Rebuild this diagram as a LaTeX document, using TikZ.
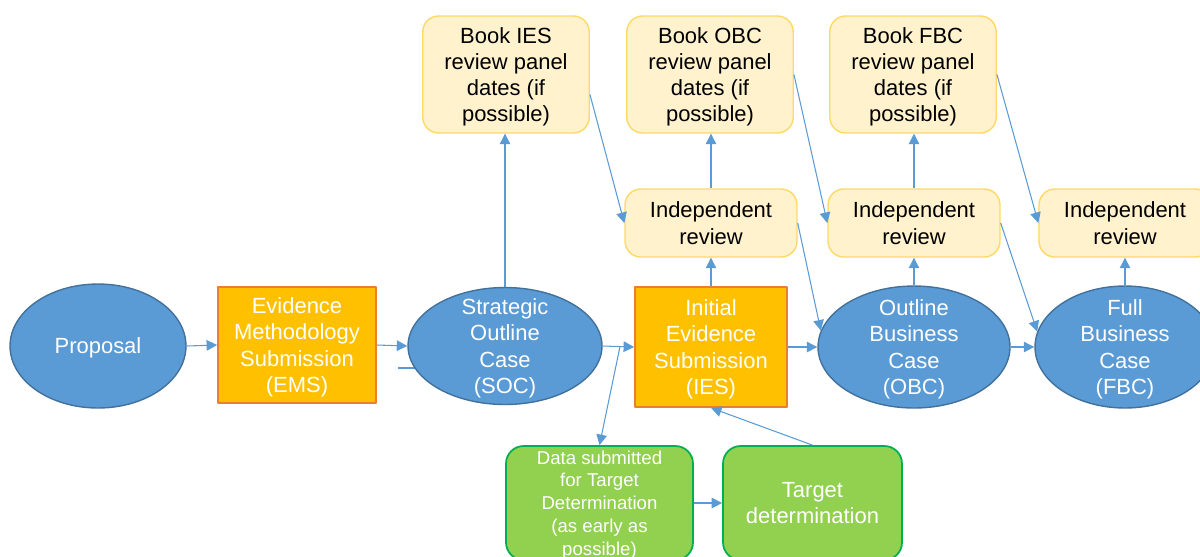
\documentclass[tikz,border=0pt]{standalone}
\usepackage{fontspec}
\setmainfont{Liberation Sans}
\usetikzlibrary{arrows.meta,calc,shapes.geometric,backgrounds}

\definecolor{ovalblue}{HTML}{5B9BD5}
\definecolor{ovalline}{HTML}{41719C}
\definecolor{subfill}{HTML}{FFC000}
\definecolor{subline}{HTML}{ED7D31}
\definecolor{notefill}{HTML}{FFF2CC}
\definecolor{noteline}{HTML}{FFD966}
\definecolor{datafill}{HTML}{92D050}
\definecolor{dataline}{HTML}{00B050}

\begin{document}
\begin{tikzpicture}[x=0.02cm, y=-0.02cm, font=\fontsize{12.5}{14.9}\selectfont, line join=round,
    every node/.append style={text depth=0pt},
    oval/.style={ellipse, draw=ovalline, fill=ovalblue, line width=0.8pt, inner sep=0pt},
    ovaltext/.style={text=white, align=center, inner sep=0pt},
    submit/.style={rectangle, draw=subline, fill=subfill, line width=1pt, text=white, align=center, inner sep=0pt},
    note/.style={rectangle, rounded corners=9pt, draw=noteline, fill=notefill, line width=0.8pt, align=center, inner sep=0pt, minimum width=3.33cm},
    data/.style={rectangle, rounded corners=10pt, draw=dataline, fill=datafill, line width=1pt, text=white, align=center, inner sep=0pt, minimum height=2.28cm},
    link/.style={draw=ovalblue, line width=0.6pt, -{Triangle[length=6pt,width=6pt]}}]
    \useasboundingbox (0,0) rectangle (1200,556);
    \clip (0,0) rectangle (1200,556);

    % main stages
    \node[oval, minimum width=3.52cm, minimum height=2.48cm, label={[ovaltext]center:Proposal}] (proposal) at (98,346) {};
    \node[submit, minimum width=3.16cm, minimum height=2.32cm] (ems) at (297,345) {Evidence\\Methodology\\Submission\\(EMS)};
    \node[oval, minimum width=3.88cm, minimum height=2.34cm, label={[ovaltext]center:{Strategic\\Outline\\Case\\(SOC)}}] (soc) at (505,346) {};
    \node[submit, minimum width=3.04cm, minimum height=2.4cm] (ies) at (711,347) {Initial\\Evidence\\Submission\\(IES)};
    \node[oval, minimum width=3.84cm, minimum height=2.44cm, label={[ovaltext]center:{Outline\\Business\\Case\\(OBC)}}] (obc) at (914,347) {};
    \node[oval, minimum width=3.6cm, minimum height=2.44cm, label={[ovaltext]center:{Full\\Business\\Case\\(FBC)}}] (fbc) at (1125,347) {};

    % review panels
    \foreach \x/\name/\stage in {506/bookies/IES, 710/bookobc/OBC, 913/bookfbc/FBC}
        \node[note, minimum height=2.34cm] (\name) at (\x,74.5) {Book \stage\\review panel\\dates (if\\possible)};
    \foreach \x/\name in {711/ir1, 914/ir2, 1125/ir3}
        \node[note, minimum width=3.44cm, minimum height=1.36cm] (\name) at (\x,223) {Independent\\review};

    % target determination
    \node[data, minimum width=3.74cm, font=\fontsize{10.6}{13}\selectfont] (tddata) at (599.5,503) {Data submitted\\for Target\\Determination\\(as early as\\possible)};
    \node[data, minimum width=3.58cm] (target) at (812.5,503) {Target\\determination};

    \coordinate (branch) at ($(soc.east)!0.55!(ies.west)$);
    \coordinate (stub) at (398,368);

    \begin{pgfonlayer}{background}
        \draw[draw=ovalblue, line width=0.6pt] (stub) -- (stub -| soc.center);
    \end{pgfonlayer}

    \draw[link] (proposal.east) -- (ems.west);
    \draw[link] (ems.east) -- (soc.west);
    \draw[link] (soc.east) -- (ies.west);
    \draw[link] (ies.east) -- (obc.west);
    \draw[link] (obc.east) -- (fbc.west);

    \draw[link] (soc.north) -- (soc.north |- bookies.south);
    \draw[link] (ies.north) -- (ir1.south);
    \draw[link] (ir1.north) -- (ir1.north |- bookobc.south);
    \draw[link] (obc.north) -- (ir2.south);
    \draw[link] (ir2.north) -- (ir2.north |- bookfbc.south);
    \draw[link] (fbc.north) -- (ir3.south);

    \draw[link] ($(bookies.east)+(0,20)$) -- (ir1.west);
    \draw[link] (ir1.east) -- (obc.170);
    \draw[link] (bookobc.east) -- (ir2.west);
    \draw[link] (ir2.east) -- (fbc.170);
    \draw[link] (bookfbc.east) -- (ir3.west);

    \draw[link] (branch) -- (tddata.north);
    \draw[link] (tddata.east) -- (target.west);
    \draw[link] (target.north) -- (ies.south);
\end{tikzpicture}
\end{document}
